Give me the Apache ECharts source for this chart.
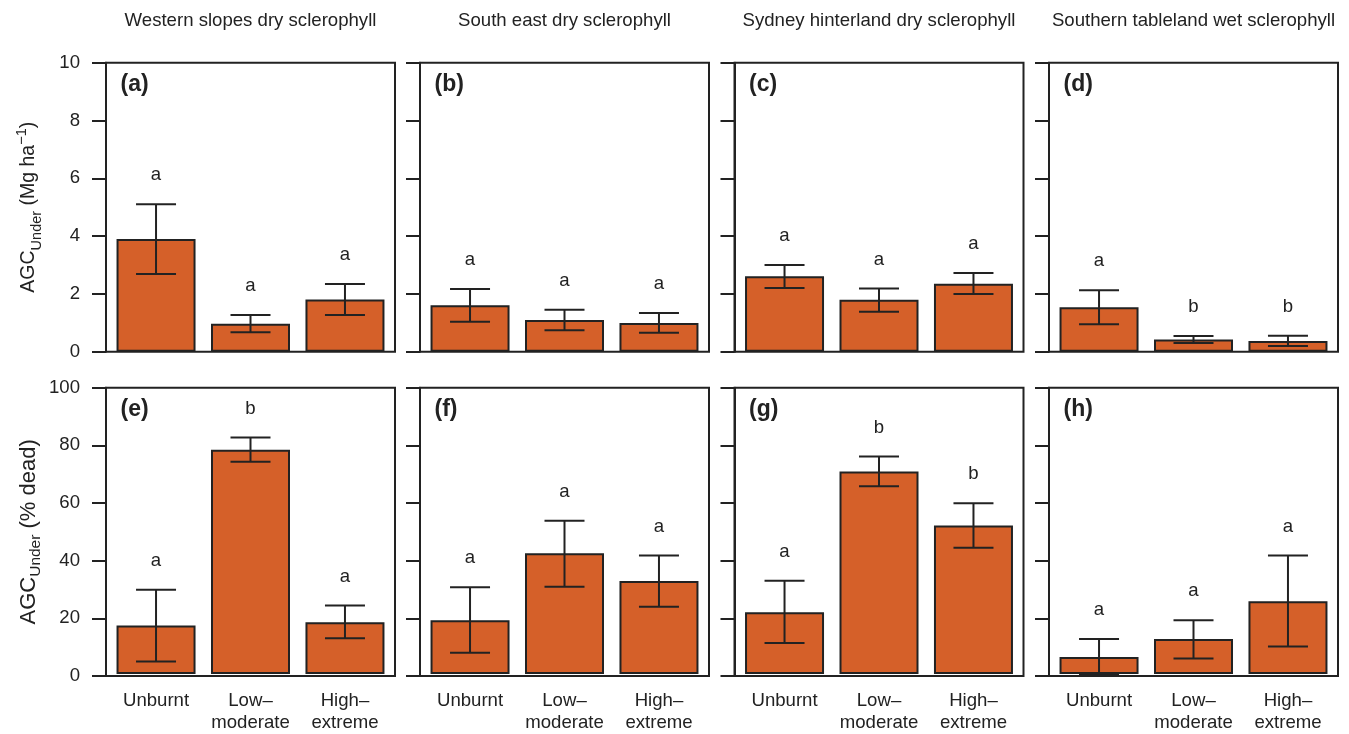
<!DOCTYPE html>
<html>
<head>
<meta charset="utf-8">
<script src="https://cdn.jsdelivr.net/npm/echarts@6/dist/echarts.min.js"></script>
<style>
html, body { margin: 0; padding: 0; background: #ffffff; }
#chart { width: 1349px; height: 734px; }
</style>
</head>
<body>
<div id="chart"></div>
<script>
// ---------------- data ----------------
const categories = ['Unburnt', 'Low–\nmoderate', 'High–\nextreme'];
const columnTitles = [
  'Western slopes dry sclerophyll',
  'South east dry sclerophyll',
  'Sydney hinterland dry sclerophyll',
  'Southern tableland wet sclerophyll'
];
const topPanelTags = ['(a)', '(b)', '(c)', '(d)'];
const bottomPanelTags = ['(e)', '(f)', '(g)', '(h)'];

// AGC_Under (Mg ha-1): mean, lower and upper error bar, significance letters
const agcMean = [[3.90, 0.97, 1.81], [1.61, 1.10, 0.99], [2.61, 1.80, 2.35], [1.54, 0.42, 0.37]];
const agcLow  = [[2.69, 0.67, 1.27], [1.04, 0.74, 0.66], [2.20, 1.38, 2.00], [0.95, 0.30, 0.20]];
const agcHigh = [[5.10, 1.27, 2.34], [2.17, 1.45, 1.34], [3.00, 2.19, 2.72], [2.13, 0.54, 0.55]];
const agcSig  = [['a', 'a', 'a'], ['a', 'a', 'a'], ['a', 'a', 'a'], ['a', 'b', 'b']];

// AGC_Under (% dead)
const deadMean = [[16.9, 78.3, 18.1], [18.8, 42.2, 32.5], [21.6, 70.7, 51.9], [5.9, 12.2, 25.4]];
const deadLow  = [[4.4, 74.1, 12.5], [7.4, 30.5, 23.5], [10.8, 65.6, 44.1], [0.0, 5.4, 9.6]];
const deadHigh = [[29.4, 82.6, 23.9], [30.3, 53.5, 41.4], [32.6, 76.0, 59.6], [12.2, 18.8, 41.4]];
const deadSig  = [['a', 'b', 'a'], ['a', 'a', 'a'], ['a', 'b', 'b'], ['a', 'a', 'a']];

const topAxis = { min: 0, max: 10, interval: 2 };
const bottomAxis = { min: 0, max: 100, interval: 20 };

// ---------------- styling / layout ----------------
const FONT = '"Liberation Sans", Arial, Helvetica, sans-serif';
const INK = '#222222';
const BAR = '#d56029';
const FS = 18.6;
const colLeft = [106, 420, 734.5, 1049];
const BOXW = 289;
const rowsLayout = [
  { top: 62.7, height: 289, axis: topAxis, mean: agcMean, low: agcLow, high: agcHigh, sig: agcSig, tags: topPanelTags,
    name: '{m|AGC}{s|Under}{m| (Mg ha}{p|−1}{m|)}', mainFs: 19.5, subFs: 14.5, nameGap: 62 },
  { top: 387.7, height: 288.3, axis: bottomAxis, mean: deadMean, low: deadLow, high: deadHigh, sig: deadSig, tags: bottomPanelTags,
    name: '{m|AGC}{s|Under}{m| (% dead)}', mainFs: 22, subFs: 15.5, nameGap: 62 }
];

const grid = [], xAxis = [], yAxis = [], series = [], graphic = [];

function makeErrRenderer(sigArr) {
  return function (params, api) {
    const x = api.value(0);
    const pLo = api.coord([x, api.value(1)]);
    const pHi = api.coord([x, api.value(2)]);
    const cap = 20;
    const st = { stroke: INK, lineWidth: 2 };
    return {
      type: 'group',
      children: [
        { type: 'line', shape: { x1: pLo[0], y1: pLo[1], x2: pHi[0], y2: pHi[1] }, style: st },
        { type: 'line', shape: { x1: pLo[0] - cap, y1: pLo[1], x2: pLo[0] + cap, y2: pLo[1] }, style: st },
        { type: 'line', shape: { x1: pHi[0] - cap, y1: pHi[1], x2: pHi[0] + cap, y2: pHi[1] }, style: st },
        { type: 'text', style: { x: pHi[0], y: pHi[1] - 29, text: sigArr[params.dataIndex],
            fill: INK, font: FS + 'px ' + FONT, align: 'center', verticalAlign: 'middle' } }
      ]
    };
  };
}

rowsLayout.forEach((row, r) => {
  for (let c = 0; c < 4; c++) {
    const L = colLeft[c];
    // frame grid (box + y axis)
    const boxIdx = grid.length;
    grid.push({ left: L, top: row.top, width: BOXW, height: row.height, show: true,
      borderColor: INK, borderWidth: 2, backgroundColor: 'transparent' });
    xAxis.push({ gridIndex: boxIdx, type: 'value', min: 0, max: 1, show: false });
    yAxis.push({
      gridIndex: boxIdx, type: 'value', min: row.axis.min, max: row.axis.max, interval: row.axis.interval,
      axisLine: { show: true, lineStyle: { color: INK, width: 2 } },
      axisTick: { show: true, inside: false, length: 14, lineStyle: { color: INK, width: 2 } },
      axisLabel: { show: c === 0, margin: 26, fontSize: FS, color: INK, fontFamily: FONT },
      splitLine: { show: false },
      name: c === 0 ? row.name : '',
      nameLocation: 'middle', nameRotate: 90, nameGap: row.nameGap,
      nameTextStyle: {
        color: INK, fontFamily: FONT,
        rich: {
          m: { fontSize: row.mainFs, fontFamily: FONT, color: INK, lineHeight: 30, verticalAlign: 'middle' },
          s: { fontSize: row.subFs, fontFamily: FONT, color: INK, lineHeight: 14, verticalAlign: 'bottom' },
          p: { fontSize: row.subFs, fontFamily: FONT, color: INK, lineHeight: 14, verticalAlign: 'top' }
        }
      }
    });
    // bar grid
    const barIdx = grid.length;
    grid.push({ left: L + 2.8, top: row.top, width: 283.4, height: row.height, show: false });
    xAxis.push({
      gridIndex: barIdx, type: 'category', data: categories,
      axisLine: { show: false }, axisTick: { show: false },
      axisLabel: { show: r === 1, margin: 16, fontSize: FS, color: INK, fontFamily: FONT, lineHeight: 22, interval: 0 }
    });
    yAxis.push({ gridIndex: barIdx, type: 'value', min: row.axis.min, max: row.axis.max, show: false });

    series.push({
      type: 'bar', xAxisIndex: barIdx, yAxisIndex: barIdx,
      data: row.mean[c], barWidth: 79,
      itemStyle: { color: BAR, borderColor: INK, borderWidth: 2 },
      silent: true, animation: false
    });
    series.push({
      type: 'custom', xAxisIndex: barIdx, yAxisIndex: barIdx,
      data: row.mean[c].map((_, i) => [i, row.low[c][i], row.high[c][i]]),
      encode: { x: 0, y: [1, 2] },
      renderItem: makeErrRenderer(row.sig[c]), clip: false, silent: true, animation: false, z: 5
    });

    graphic.push({
      type: 'text', x: L + 14.5, y: row.top + 21.5,
      style: { text: row.tags[c], font: 'bold 23px ' + FONT, fill: INK, verticalAlign: 'middle', align: 'left' }
    });
    if (r === 0) {
      graphic.push({
        type: 'text', x: L + BOXW / 2, y: 21,
        style: { text: columnTitles[c], font: FS + 'px ' + FONT, fill: INK, verticalAlign: 'middle', align: 'center' }
      });
    }
  }
});

const chart = echarts.init(document.getElementById('chart'), null, { renderer: 'canvas' });
chart.setOption({
  animation: false,
  backgroundColor: '#ffffff',
  textStyle: { fontFamily: FONT },
  grid, xAxis, yAxis, series, graphic
});
</script>
</body>
</html>
